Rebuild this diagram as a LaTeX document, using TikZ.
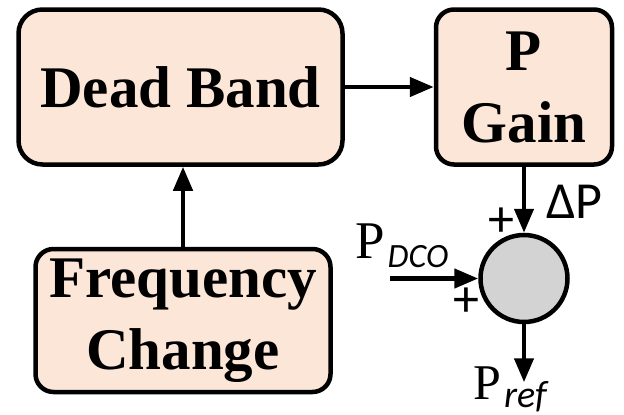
\documentclass[tikz,border=0pt]{standalone}
\usepackage{fontspec}
\setmainfont{Liberation Serif}
\newfontfamily\calibri{Carlito}
\usepackage{xcolor}
\definecolor{blockFill}{HTML}{FBE6D8}
\definecolor{sumGray}{HTML}{D3D3D3}
\usepackage{tikz}
\usetikzlibrary{
    arrows.meta,
    positioning
}
\tikzset{
    % Base style for all blocks
    block base/.style={
        font=\bfseries\fontsize{59}{72}\selectfont,
        align=center,
        text=black,
        inner sep=0pt,
    },
    % Process blocks - rounded rectangle with peach fill
    block/.style={
        block base,
        rectangle,
        rounded corners=18pt,
        draw=black,
        line width=4.5pt,
        fill=blockFill,
    },
    % Summing junction - gray circle
    sum node/.style={
        circle,
        draw=black,
        line width=4.5pt,
        fill=sumGray,
        minimum size=87pt,
        inner sep=0pt,
    },
    % Signal arrow
    arrow/.style={
        -{Triangle[length=24pt, width=19pt]},
        line width=4.5pt,
        draw=black,
    },
    % Signal names and signs
    signal label/.style={
        anchor=base west,
        inner sep=0pt,
    },
    sign label/.style={
        font=\calibri\fontsize{52}{52}\selectfont,
        inner sep=0pt,
    },
}

\begin{document}
\begin{tikzpicture}[x=1pt, y=-1pt]
    \useasboundingbox (0,0) rectangle (624,415);

    \node (deadband) [block, rounded corners=24pt, minimum width=324pt, minimum height=155pt] at (180.5,87) {Dead Band};
    \node (pgain) [block, minimum width=176pt, minimum height=155pt, right=89pt of deadband] {P\\Gain};
    \node (freq) [block, minimum width=295pt, minimum height=143pt, below=80pt of deadband, xshift=2.5pt] {Frequency\\Change};
    \node (sum) [sum node, below=66pt of pgain] {};
    \coordinate [left=88pt of sum] (dcoin);
    \coordinate [below=58pt of sum] (refout);

    \node (dplabel) [signal label, font=\calibri\fontsize{52}{52}\selectfont] at (546,218) {ΔP};
    \node (pdco) [signal label] at (355,258) {\fontsize{53}{53}\selectfont P\kern3pt\raisebox{-9pt}{\calibri\itshape\fontsize{34}{34}\selectfont DCO}};
    \node (pref) [signal label] at (473,399) {\fontsize{50}{50}\selectfont P\kern3pt\raisebox{-8pt}{\calibri\itshape\fontsize{38}{38}\selectfont ref}};
    \node (plustop) [sign label] at (501,222) {+};
    \node (plusleft) [sign label] at (466,302) {+};

    \draw [arrow] (deadband) -- (pgain);
    \draw [arrow] (freq.north) -- (freq.north |- deadband.south);
    \draw [arrow] (pgain) -- (sum);
    \draw [arrow] (dcoin) -- (sum);
    \draw [arrow] (sum) -- (refout);
\end{tikzpicture}
\end{document}
